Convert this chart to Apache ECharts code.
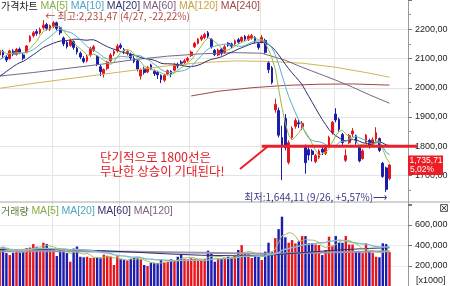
<!DOCTYPE html>
<html>
<head>
<meta charset="utf-8">
<script src="https://cdn.jsdelivr.net/npm/echarts@6/dist/echarts.min.js"></script>
<style>
  html, body { margin: 0; padding: 0; background: #fff; }
  #chart { width: 450px; height: 286px; }
</style>
</head>
<body>
<div id="chart"></div>
<script>
// 일봉 (2011/4/8 ~ 9/27)
var dates = ['4/8','4/11','4/12','4/13','4/14','4/15','4/18','4/19','4/20','4/21',
  '4/22','4/25','4/26','4/27','4/28','4/29','5/2','5/3','5/4','5/6',
  '5/9','5/11','5/12','5/13','5/16','5/17','5/18','5/19','5/20','5/23',
  '5/24','5/25','5/26','5/27','5/30','5/31','6/1','6/2','6/3','6/7',
  '6/8','6/9','6/10','6/13','6/14','6/15','6/16','6/17','6/20','6/21',
  '6/22','6/23','6/24','6/27','6/28','6/29','6/30','7/1','7/4','7/5',
  '7/6','7/7','7/8','7/11','7/12','7/13','7/14','7/15','7/18','7/19',
  '7/20','7/21','7/22','7/25','7/26','7/27','7/28','7/29','8/1','8/2',
  '8/3','8/4','8/5','8/8','8/9','8/10','8/11','8/12','8/16','8/17',
  '8/18','8/19','8/22','8/23','8/24','8/25','8/26','8/29','8/30','8/31',
  '9/1','9/2','9/5','9/6','9/7','9/8','9/9','9/14','9/15','9/16',
  '9/19','9/20','9/21','9/22','9/23','9/26','9/27'];

var opens = [2112,2125,2105,2100,2125,2114,2132,2112,2122,2160,
  2178,2192,2188,2205,2216,2200,2210,2222,2205,2170,
  2155,2145,2158,2135,2118,2100,2092,2112,2128,2108,
  2072,2048,2066,2092,2116,2126,2145,2130,2120,2115,
  2100,2092,2040,2066,2054,2078,2056,2052,2042,2026,
  2048,2056,2060,2080,2088,2086,2094,2110,2140,2152,
  2166,2172,2188,2166,2128,2112,2132,2122,2152,2150,
  2150,2164,2160,2176,2166,2170,2172,2150,2158,2162,
  2085,2068,1925,1922,1830,1895,1745,1830,1868,1880,
  1866,1798,1788,1784,1748,1762,1790,1776,1802,1846,
  1910,1892,1840,1752,1812,1842,1836,1796,1758,1814,
  1820,1805,1825,1826,1742,1726,1690];
var closes = [2127,2112,2095,2126,2115,2131,2122,2101,2143,2175,
  2188,2186,2200,2214,2203,2212,2222,2203,2188,2150,
  2140,2162,2138,2122,2105,2090,2106,2134,2140,2080,
  2055,2062,2088,2112,2124,2142,2138,2126,2124,2102,
  2090,2064,2062,2052,2070,2066,2048,2044,2028,2042,
  2058,2048,2078,2074,2084,2092,2100,2122,2152,2166,
  2174,2182,2176,2140,2114,2128,2118,2140,2146,2142,
  2160,2156,2172,2166,2176,2178,2160,2138,2172,2121,
  2062,2018,1943,1838,1801,1796,1812,1862,1888,1876,
  1878,1744,1770,1772,1768,1784,1780,1796,1830,1882,
  1890,1858,1813,1768,1836,1852,1812,1750,1784,1838,
  1800,1822,1846,1786,1697,1652.71,1735.71];
var lows = [2106,2100,2088,2096,2108,2110,2115,2094,2118,2155,
  2172,2178,2182,2198,2196,2194,2204,2196,2180,2142,
  2134,2140,2130,2114,2098,2084,2086,2106,2122,2074,
  2040,2035,2060,2088,2108,2120,2132,2115,2110,2095,
  2084,2056,2028,2045,2050,2060,2040,2030,2016,2020,
  2042,2036,2056,2066,2078,2080,2088,2105,2136,2148,
  2160,2166,2170,2134,2108,2108,2110,2116,2140,2136,
  2145,2150,2155,2160,2160,2164,2152,2130,2152,2116,
  2050,2012,1915,1830,1684,1786,1738,1822,1860,1862,
  1855,1706,1752,1748,1742,1756,1770,1770,1796,1840,
  1882,1850,1805,1746,1808,1832,1805,1745,1754,1810,
  1792,1800,1816,1780,1692,1644.11,1684];
var highs = [2131,2130,2112,2130,2132,2136,2138,2118,2146,2180,
  2194,2200,2206,2231.47,2222,2216,2228,2226,2210,2175,
  2160,2168,2162,2140,2124,2108,2112,2140,2146,2112,
  2078,2066,2092,2118,2130,2150,2152,2136,2128,2120,
  2108,2095,2066,2072,2074,2082,2062,2058,2046,2048,
  2062,2060,2084,2086,2094,2098,2106,2127,2157,2170,
  2180,2188,2194,2170,2132,2134,2136,2146,2156,2154,
  2165,2170,2176,2180,2182,2184,2176,2155,2180,2168,
  2092,2074,1962,1932,1870,1910,1820,1868,1896,1892,
  1886,1806,1796,1790,1774,1790,1798,1802,1836,1886,
  1930,1898,1846,1790,1842,1862,1840,1802,1790,1842,
  1826,1830,1865,1830,1746,1730,1740];
// 화면 앞쪽 종가 (이동평균 계산용)
var prevCloses = [1957,1923,1966,1942,1981,2003,2010,2008,2012,2029,
  2030,2024,2057,2106,2109,2124,2126,2121,2130];

// 거래량 (x1000)
var volumes = [372000,388000,326000,307000,330000,356000,340000,345000,375000,380000,
  414000,388000,370000,427000,414000,375000,356000,297000,370000,365000,
  326000,242000,370000,390000,290000,285000,290000,278000,280000,285000,
  275000,310000,300000,290000,210000,295000,265000,258000,255000,270000,
  280000,275000,265000,210000,200000,229000,232000,229000,265000,232000,
  240000,265000,258000,290000,317000,270000,265000,275000,270000,265000,
  260000,268000,350000,326000,242000,275000,270000,280000,290000,280000,
  300000,356000,404000,326000,326000,278000,300000,290000,258000,340000,
  427000,340000,472000,560000,681000,480000,427000,453000,420000,440000,
  492000,492000,421000,421000,410000,405000,307000,356000,486000,400000,
  492000,430000,427000,492000,410000,410000,340000,335000,326000,421000,
  340000,326000,290000,285000,421000,414000,335000];
var prevVolumes = [360000,420000,480000,400000,380000,350000,340000,330000,345000,360000,
  350000,330000,380000,420000,400000,390000,370000,360000,380000];

// 장기 이동평균 [index, value]
var ma60 = [[0,2040],[10,2052],[20,2066],[30,2080],[40,2096],[50,2108],[60,2116],[70,2120],
  [78,2118],[85,2094],[90,2070],[95,2048],[100,2026],[105,2002],[110,1976],[116,1947]];
var ma120 = [[0,1998],[10,2015],[20,2030],[30,2045],[40,2060],[50,2075],[60,2086],[70,2092],
  [80,2090],[90,2084],[100,2070],[110,2050],[116,2036]];
var ma240 = [[57,1972],[65,1988],[75,2000],[85,2008],[95,2012],[105,2013],[116,2009]];
var volMa60 = [[0,360000],[10,362000],[20,360000],[30,350000],[40,335000],[50,318000],[60,305000],
  [70,300000],[80,305000],[90,330000],[100,355000],[110,372000],[116,378000]];
var volMa120 = [[0,345000],[20,345000],[40,340000],[60,330000],[80,320000],[100,335000],[116,345000]];

var priceTicks = [1700, 1800, 1900, 2000, 2100, 2200];
var volTicks = [200000, 400000, 600000];

var UP = '#e8141c', DOWN = '#1c1cae';
var FONT = "'Noto Sans CJK KR', 'Noto Sans', sans-serif";
var LAT = "'Liberation Sans', Arial, sans-serif";

function sma(vals, prev, n) {
  var all = prev.concat(vals);
  return vals.map(function (v, i) {
    var end = prev.length + i, s = 0;
    if (end - n + 1 < 0) return null;
    for (var k = end - n + 1; k <= end; k++) s += all[k];
    return +(s / n).toFixed(2);
  });
}
function num(v, dec) {
  var s = v.toFixed(dec).split('.');
  var ip = s[0].replace(/\B(?=(\d{3})+(?!\d))/g, ',');
  return dec ? ip + ',' + s[1] : ip;
}
function pct(v) {
  return (v >= 0 ? '+' : '') + v.toFixed(2).replace('.', ',') + '%';
}

var cats = dates.slice();
for (var p = 1; p <= 5; p++) cats.push('+' + p);
var monthStart = cats.map(function (d, i) {
  return i > 0 && i < dates.length && d.split('/')[0] !== dates[i - 1].split('/')[0];
});

var candles = dates.map(function (d, i) { return [opens[i], closes[i], lows[i], highs[i]]; });
var volBars = volumes.map(function (v, i) {
  return { value: v, itemStyle: { color: closes[i] >= opens[i] ? UP : DOWN } };
});

var myChart = echarts.init(document.getElementById('chart'));

function xAxisOf(g) {
  return {
    type: 'category', gridIndex: g, data: cats, boundaryGap: true,
    axisLabel: { show: false }, axisTick: { show: false }, axisLine: { show: false },
    splitLine: { show: true, interval: function (i) { return monthStart[i]; },
      lineStyle: { color: '#e4e4e4', width: 1 } }
  };
}
function line(name, data, color, x, y, w) {
  return { name: name, type: 'line', data: data, xAxisIndex: x, yAxisIndex: y,
    showSymbol: false, connectNulls: true, silent: true,
    lineStyle: { color: color, width: w || 1 }, z: 3 };
}
function rich(color, font, size) {
  return { color: color, fontSize: size, fontFamily: font };
}

var option = {
  animation: false,
  backgroundColor: '#fff',
  title: [{
    left: 1, top: 1, padding: 0,
    text: '{k|가격차트} {a|MA[5]} {b|MA[10]} {c|MA[20]} {d|MA[60]} {e|MA[120]} {f|MA[240]}',
    textStyle: { fontSize: 10, fontFamily: LAT, fontWeight: 'normal',
      rich: {
        k: rich('#222', FONT, 10),
        a: rich('#8aae48', LAT, 10.5),
        b: rich('#4fa6c2', LAT, 10.5),
        c: rich('#34346e', LAT, 10.5),
        d: rich('#7a5f7e', LAT, 10.5),
        e: rich('#c9a445', LAT, 10.5),
        f: rich('#a04646', LAT, 10.5)
      } }
  }, {
    left: 1, top: 206, padding: 0,
    text: '{k|거래량} {a|MA[5]} {b|MA[20]} {c|MA[60]} {d|MA[120]}',
    textStyle: { fontSize: 10, fontFamily: LAT, fontWeight: 'normal',
      rich: {
        k: rich('#5b7a3a', FONT, 10),
        a: rich('#8aae48', LAT, 10.5),
        b: rich('#4fa6c2', LAT, 10.5),
        c: rich('#34346e', LAT, 10.5),
        d: rich('#7a5f7e', LAT, 10.5)
      } }
  }],
  grid: [
    { left: -2, right: 42, top: 0, height: 204.75, containLabel: false, outerBoundsMode: 'none' },
    { left: -2, right: 42, top: 204.5, height: 82, containLabel: false, outerBoundsMode: 'none' }
  ],
  xAxis: [xAxisOf(0), xAxisOf(1)],
  yAxis: [{
    type: 'value', gridIndex: 0, position: 'right', min: 1600, max: 2300, interval: 100,
    axisLine: { show: true, lineStyle: { color: '#9a9a9a' } },
    axisTick: { show: true, length: 4, lineStyle: { color: '#777' } },
    minorTick: { show: true, splitNumber: 2, length: 3, lineStyle: { color: '#999' } },
    axisLabel: { color: '#222', fontSize: 9, margin: 7, fontFamily: LAT,
      formatter: function (v) { return priceTicks.indexOf(v) >= 0 ? v.toFixed(2).replace('.', ',') : ''; } },
    splitLine: { show: true, lineStyle: { color: ['rgba(0,0,0,0)', '#e4e4e4', '#e4e4e4', '#e4e4e4', '#e4e4e4', '#e4e4e4', '#e4e4e4', 'rgba(0,0,0,0)'] } }
  }, {
    type: 'value', gridIndex: 1, position: 'right', min: 0, max: 800000, interval: 200000,
    axisLine: { show: true, lineStyle: { color: '#9a9a9a' } },
    axisTick: { show: true, length: 4, lineStyle: { color: '#777' } },
    axisLabel: { color: '#222', fontSize: 9, margin: 7, fontFamily: LAT,
      formatter: function (v) { return volTicks.indexOf(v) >= 0 ? num(v, 0) : ''; } },
    splitLine: { show: true, lineStyle: { color: ['rgba(0,0,0,0)', '#ececec', '#ececec', '#ececec', 'rgba(0,0,0,0)'] } }
  }],
  series: [
    { name: '가격', type: 'candlestick', data: candles, xAxisIndex: 0, yAxisIndex: 0,
      barWidth: '68%', silent: true, z: 2,
      itemStyle: { color: UP, color0: DOWN, borderColor: UP, borderColor0: DOWN, borderWidth: 1 } },
    line('MA[240]', ma240, '#a04646', 0, 0),
    line('MA[120]', ma120, '#d6b35a', 0, 0),
    line('MA[60]', ma60, '#7a6585', 0, 0),
    line('MA[20]', sma(closes, prevCloses, 20), '#2e2e6c', 0, 0),
    line('MA[10]', sma(closes, prevCloses, 10), '#56b0c8', 0, 0),
    line('MA[5]', sma(closes, prevCloses, 5), '#98b84a', 0, 0),
    { name: '거래량', type: 'bar', data: volBars, xAxisIndex: 1, yAxisIndex: 1,
      barWidth: '72%', silent: true, z: 2 },
    line('V-MA[120]', volMa120, '#a093b0', 1, 1, 2),
    line('V-MA[60]', volMa60, '#2e2e6c', 1, 1),
    line('V-MA[20]', sma(volumes, prevVolumes, 20), '#86bcd4', 1, 1, 1.5),
    line('V-MA[5]', sma(volumes, prevVolumes, 5), '#a8c060', 1, 1)
  ]
};
myChart.setOption(option);

// 주석
var hiIdx = highs.indexOf(Math.max.apply(null, highs));
var loIdx = lows.indexOf(Math.min.apply(null, lows));
var last = closes.length - 1;
var lastClose = closes[last];
var px = function (i, v, g) { return myChart.convertToPixel({ gridIndex: g || 0 }, [i, v]); };
var hiPt = px(hiIdx, highs[hiIdx]);
var loPt = px(loIdx, lows[loIdx]);
var lastPt = px(last, lastClose);
var y1800 = px(0, 1800)[1];
var x801 = px(dates.indexOf('8/1'), 1800)[0];

var hiText = '← 최고:' + num(highs[hiIdx], 2) + ' (' + dates[hiIdx] + ', ' +
  pct((lastClose / highs[hiIdx] - 1) * 100) + ')';
var loText = '최저:' + num(lows[loIdx], 2) + ' (' + dates[loIdx] + ', ' +
  pct((lastClose / lows[loIdx] - 1) * 100) + ')⟶';
var chg = (lastClose / closes[last - 1] - 1) * 100;

myChart.setOption({
  graphic: [
    { type: 'line', shape: { x1: 0, y1: 202, x2: 450, y2: 202 }, style: { stroke: '#a8a8a8', lineWidth: 1 }, z: 10 },
    { type: 'text', x: hiPt[0] + 2, y: hiPt[1] - 4,
      style: { text: hiText, fill: '#b04a40', font: '10px ' + FONT, verticalAlign: 'middle' }, z: 10 },
    { type: 'text', x: loPt[0] + 1, y: loPt[1] + 5,
      style: { text: loText, fill: '#3a3a86', font: '10px ' + FONT, align: 'right', verticalAlign: 'middle' }, z: 10 },
    { type: 'text', x: 100, y: 150,
      style: { text: '단기적으로 1800선은\n무난한 상승이 기대된다!', fill: '#e02028',
        font: '12.5px ' + FONT, lineHeight: 14 }, z: 10 },
    { type: 'polyline', shape: { points: [[240, 169], [268, y1800]] },
      style: { stroke: '#e8202a', lineWidth: 2, fill: null }, z: 10 },
    { type: 'line', shape: { x1: x801, y1: y1800, x2: 417, y2: y1800 },
      style: { stroke: '#e8202a', lineWidth: 3 }, z: 10 },
    { type: 'rect', shape: { x: 408, y: lastPt[1] - 9.5, width: 35, height: 19.5 },
      style: { fill: '#ee1c24' }, z: 20 },
    { type: 'text', x: 409.5, y: lastPt[1] - 4.5,
      style: { text: num(lastClose, 2), fill: '#fff', font: '8.5px ' + LAT, verticalAlign: 'middle' }, z: 21 },
    { type: 'text', x: 410, y: lastPt[1] + 5,
      style: { text: chg.toFixed(2).replace('.', ',') + '%', fill: '#fff', font: '8.5px ' + LAT, verticalAlign: 'middle' }, z: 21 },
    { type: 'text', x: 416, y: 281,
      style: { text: '[x1000]', fill: '#222', font: '9px ' + LAT, verticalAlign: 'middle' }, z: 10 },
    { type: 'rect', shape: { x: 440.5, y: 204.5, width: 7, height: 7 },
      style: { fill: '#eee', stroke: '#666', lineWidth: 1 }, z: 10 },
    { type: 'polyline', shape: { points: [[441.5, 205.5], [446.5, 210.5]] }, style: { stroke: '#444', fill: null }, z: 11 },
    { type: 'polyline', shape: { points: [[446.5, 205.5], [441.5, 210.5]] }, style: { stroke: '#444', fill: null }, z: 11 }
  ]
});
</script>
</body>
</html>
